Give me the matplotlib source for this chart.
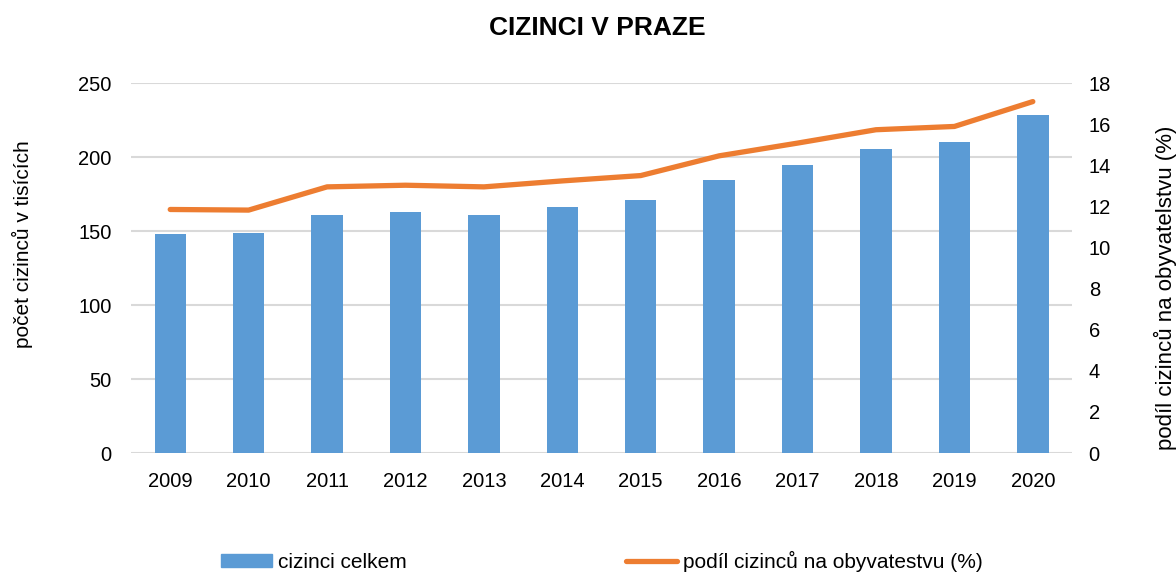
import matplotlib
matplotlib.use("Agg")
import matplotlib.pyplot as plt
from matplotlib.patches import Patch
from matplotlib.lines import Line2D

plt.rcParams['font.family'] = ['Liberation Sans', 'DejaVu Sans']

# data
years = [2009, 2010, 2011, 2012, 2013, 2014, 2015, 2016, 2017, 2018, 2019, 2020]
foreigners = [148.0, 148.4, 160.6, 162.6, 160.8, 166.2, 171.2, 184.2, 194.8, 205.4, 210.4, 228.4]
share = [11.85, 11.82, 12.95, 13.03, 12.95, 13.24, 13.5, 14.46, 15.08, 15.73, 15.89, 17.1]

blue = "#5B9BD5"
orange = "#ED7D31"
grid = "#D9D9D9"

fig = plt.figure(figsize=(11.76, 5.73), dpi=100)
ax = fig.add_axes([0.1114, 0.2094, 0.8002, 0.6456])
x = list(range(len(years)))

ax.bar(x, foreigners, width=0.4, color=blue, zorder=2)
ax.set_ylim(0, 250)
ax.set_yticks(range(0, 251, 50))
ax.set_xlim(-0.5, len(years) - 0.5)
ax.set_xticks(x)
ax.set_xticklabels([str(y) for y in years])
ax.yaxis.grid(True, color=grid, linewidth=1.5, zorder=0)
ax.set_axisbelow(True)
for s in ax.spines.values():
    s.set_visible(False)
ax.tick_params(axis='both', length=0, labelsize=14.5)
ax.tick_params(axis='y', pad=14)
ax.tick_params(axis='x', pad=14)
ax.set_ylabel("počet cizinců v tisících", fontsize=15)
ax.yaxis.set_label_coords(-0.104, 0.565)

ax2 = ax.twinx()
ax2.plot(x, share, color=orange, linewidth=3.8, solid_capstyle='round',
         solid_joinstyle='round', zorder=3)
ax2.set_ylim(0, 18)
ax2.set_yticks(range(0, 19, 2))
for s in ax2.spines.values():
    s.set_visible(False)
ax2.tick_params(axis='y', length=0, labelsize=14.5, pad=12)
ax2.set_ylabel("podíl cizinců na obyvatelstvu (%)", fontsize=16)
ax2.yaxis.set_label_coords(1.087, 0.446)

fig.text(0.508, 0.951, "CIZINCI V PRAZE", fontsize=19, fontweight='bold',
         ha='center', va='center')

handles = [Patch(color=blue), Line2D([0], [0], color=orange, linewidth=3.8,
                                     solid_capstyle='round')]
fig.legend(handles, ["cizinci celkem", "podíl cizinců na obyvatestvu (%)"],
           loc='center', bbox_to_anchor=(0.512, 0.02), ncol=2, frameon=False,
           fontsize=15, handlelength=2.45, handleheight=0.6, handletextpad=0.3,
           columnspacing=10.5)

fig.savefig("out.png", dpi=100)
